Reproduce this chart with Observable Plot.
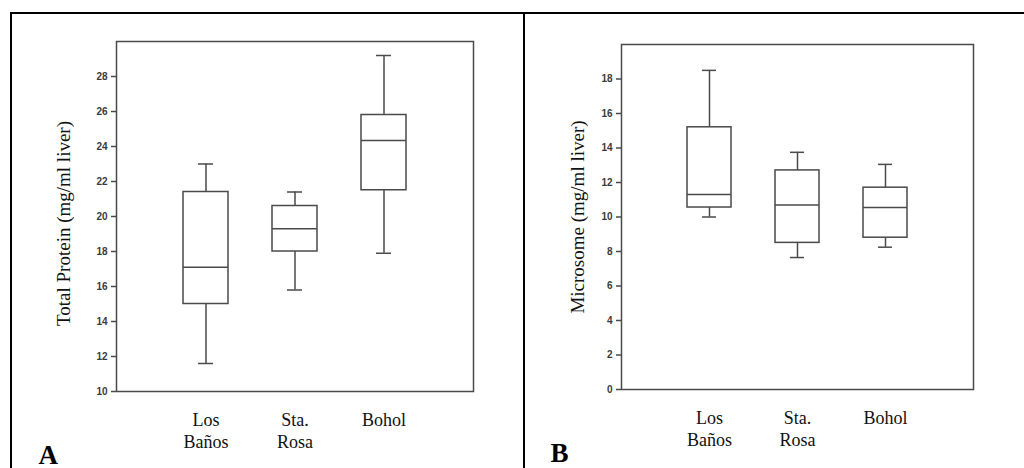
<!DOCTYPE html>
<html>
<head>
<meta charset="utf-8">
<script src="https://cdn.jsdelivr.net/npm/d3@7"></script>
<script src="https://cdn.jsdelivr.net/npm/@observablehq/plot@0.6"></script>
<style>
  html, body { margin: 0; padding: 0; background: #fff; }
  #wrap { position: relative; width: 1024px; height: 468px; overflow: hidden; background: #fff; }
  #outer { position: absolute; left: 10px; top: 12px; width: 1100px; height: 500px; border-left: 2px solid #000; border-top: 2px solid #000; }
  #divider { position: absolute; left: 523px; top: 12px; width: 2px; height: 470px; background: #000; }
  #panelA { position: absolute; left: 0; top: 0; }
  #panelB { position: absolute; left: 520px; top: 0; }
  svg { background: transparent !important; overflow: visible; }
</style>
</head>
<body>
<div id="wrap">
  <div id="outer"></div>
  <div id="divider"></div>
  <div id="panelA"></div>
  <div id="panelB"></div>
</div>
<script>
// ---- data ----
const sites = ["Los Baños", "Sta. Rosa", "Bohol"];
const siteLabels = ["Los\nBaños", "Sta.\nRosa", "Bohol"];

const proteinMin    = [11.6, 15.8, 17.9];
const proteinQ1     = [15.0, 18.0, 21.5];
const proteinMedian = [17.1, 19.3, 24.35];
const proteinQ3     = [21.4, 20.6, 25.8];
const proteinMax    = [23.0, 21.4, 29.2];

const microMin    = [10.0, 7.65, 8.25];
const microQ1     = [10.55, 8.5, 8.8];
const microMedian = [11.3, 10.7, 10.55];
const microQ3     = [15.2, 12.7, 11.7];
const microMax    = [18.5, 13.75, 13.05];

const proteinTicks = [10, 12, 14, 16, 18, 20, 22, 24, 26, 28];
const microTicks   = [0, 2, 4, 6, 8, 10, 12, 14, 16, 18];
const proteinDomain = [10, 30];
const microDomain   = [0, 20];
const proteinTitle = "Total Protein (mg/ml liver)";
const microTitle   = "Microsome (mg/ml liver)";
const panelLetters = ["A", "B"];

function rows(mn, q1, md, q3, mx) {
  return sites.map((s, i) => ({site: s, min: mn[i], q1: q1[i], median: md[i], q3: q3[i], max: mx[i]}));
}

const LINE = "#4a4a4a";
const labelOf = new Map(sites.map((s, i) => [s, siteLabels[i]]));

function boxPanel({data, domain, ticks, title, letter, width, margins, titleDx, titleDy, letterDx, letterDy}) {
  return Plot.plot({
    width, height: 468,
    marginLeft: margins[0], marginTop: margins[1], marginRight: margins[2], marginBottom: margins[3],
    style: {background: "transparent", overflow: "visible"},
    x: {type: "band", domain: sites, paddingInner: 0.5, paddingOuter: 0.75, label: null},
    y: {domain, label: null},
    marks: [
      Plot.frame({stroke: LINE, strokeWidth: 1.5}),
      Plot.axisY({ticks, tickSize: 5, tickPadding: 4, label: null, fontFamily: "Liberation Sans, Arial, sans-serif",
        fontSize: 10, fontWeight: "bold", fill: "#3a3a3a", stroke: LINE, strokeWidth: 1.5}),
      Plot.axisX({tickSize: 0, tickPadding: 19, label: null, tickFormat: d => labelOf.get(d),
        fontFamily: "Liberation Serif, Times New Roman, serif", fontSize: 18, lineHeight: 1.22, fill: "#111"}),
      // whiskers
      Plot.ruleX(data, {x: "site", y1: "q3", y2: "max", stroke: LINE, strokeWidth: 1.5}),
      Plot.ruleX(data, {x: "site", y1: "min", y2: "q1", stroke: LINE, strokeWidth: 1.5}),
      Plot.tickY(data, {x: "site", y: "max", stroke: LINE, strokeWidth: 1.5, insetLeft: 15, insetRight: 15}),
      Plot.tickY(data, {x: "site", y: "min", stroke: LINE, strokeWidth: 1.5, insetLeft: 15, insetRight: 15}),
      // boxes
      Plot.barY(data, {x: "site", y1: "q1", y2: "q3", fill: "white", stroke: LINE, strokeWidth: 1.5}),
      Plot.tickY(data, {x: "site", y: "median", stroke: LINE, strokeWidth: 1.5}),
      // y title
      Plot.text([title], {frameAnchor: "left", textAnchor: "middle", lineAnchor: "middle", rotate: -90,
        dx: titleDx, dy: titleDy, text: d => d,
        fontFamily: "Liberation Serif, Times New Roman, serif", fontSize: 19, fill: "#111"}),
      // panel letter
      Plot.text([letter], {frameAnchor: "bottom-left", textAnchor: "start", lineAnchor: "bottom", dx: letterDx, dy: letterDy,
        text: d => d, fontFamily: "Liberation Serif, Times New Roman, serif", fontSize: 27, fontWeight: "bold", fill: "#000"})
    ]
  });
}

document.getElementById("panelA").appendChild(boxPanel({
  data: rows(proteinMin, proteinQ1, proteinMedian, proteinQ3, proteinMax),
  domain: proteinDomain, ticks: proteinTicks, title: proteinTitle, letter: panelLetters[0],
  width: 523, margins: [116, 41, 50, 77], titleDx: -53, titleDy: 7, letterDx: -78, letterDy: 72
}));

document.getElementById("panelB").appendChild(boxPanel({
  data: rows(microMin, microQ1, microMedian, microQ3, microMax),
  domain: microDomain, ticks: microTicks, title: microTitle, letter: panelLetters[1],
  width: 504, margins: [101, 44, 51, 79], titleDx: -44, titleDy: 0, letterDx: -71, letterDy: 72
}));
</script>
</body>
</html>
